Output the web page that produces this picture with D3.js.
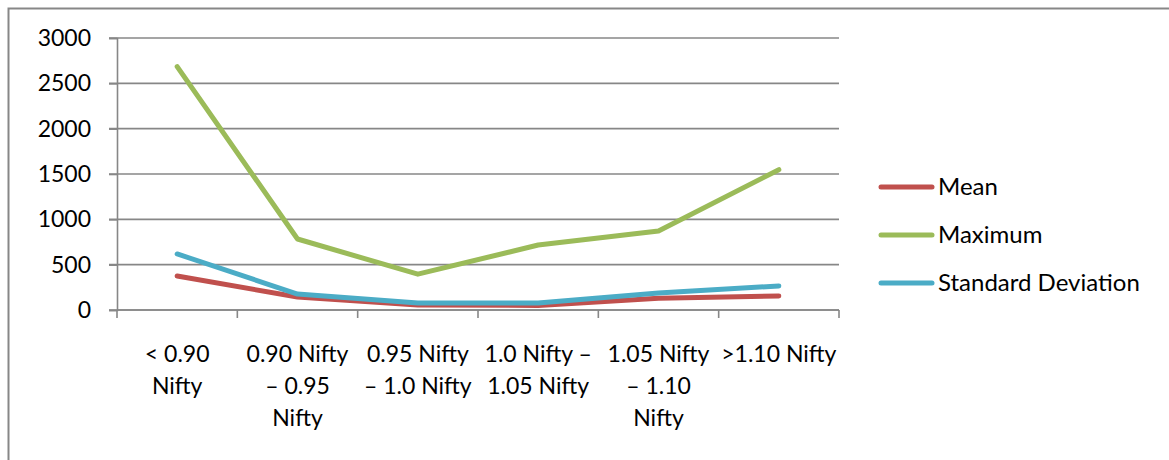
<!DOCTYPE html>
<html>
<head>
<meta charset="utf-8">
<script src="https://cdn.jsdelivr.net/npm/d3@7"></script>
<style>
  html, body { margin: 0; padding: 0; background: #fff; }
  svg { display: block; font-family: Lato, "Open Sans", sans-serif; }
</style>
</head>
<body>
<svg id="chart" width="1169" height="460"></svg>
<script>
// Price band categories (each entry is the wrapped lines of the label)
const categories = ["< 0.90 Nifty", "0.90 Nifty – 0.95 Nifty", "0.95 Nifty – 1.0 Nifty",
                    "1.0 Nifty – 1.05 Nifty", "1.05 Nifty – 1.10 Nifty", ">1.10 Nifty"];
const categoryLines = [
  ["< 0.90", "Nifty"],
  ["0.90 Nifty", "– 0.95", "Nifty"],
  ["0.95 Nifty", "– 1.0 Nifty"],
  ["1.0 Nifty –", "1.05 Nifty"],
  ["1.05 Nifty", "– 1.10", "Nifty"],
  [">1.10 Nifty"]
];
const seriesNames = ["Mean", "Maximum", "Standard Deviation"];
const meanValues = [375, 143, 55, 50, 130, 154];
const maximumValues = [2685, 783, 395, 717, 871, 1548];
const stdDevValues = [618, 176, 77, 77, 187, 265];
const yTicks = [0, 500, 1000, 1500, 2000, 2500, 3000];
const seriesColors = ["#C0504D", "#9BBB59", "#4BACC6"];

const series = [
  { name: seriesNames[0], values: meanValues, color: seriesColors[0] },
  { name: seriesNames[1], values: maximumValues, color: seriesColors[1] },
  { name: seriesNames[2], values: stdDevValues, color: seriesColors[2] }
];

const svg = d3.select("#chart");
const plotLeft = 117, plotRight = 839, plotTop = 38, plotBottom = 310;
const gridColor = "#878787";
const axisFont = 23;
const legendFont = 24;

// Outer chart frame (only top and left edges fall inside the view)
svg.append("rect")
  .attr("x", 8.5).attr("y", 8.5)
  .attr("width", 1300).attr("height", 600)
  .attr("fill", "none").attr("stroke", gridColor).attr("stroke-width", 2);

const x = d3.scaleBand().domain(categories).range([plotLeft, plotRight]);
const y = d3.scaleLinear().domain([0, 3000]).range([plotBottom, plotTop]);

// Horizontal gridlines
svg.append("g")
  .selectAll("line")
  .data(yTicks)
  .join("line")
  .attr("x1", plotLeft - 8).attr("x2", plotRight)
  .attr("y1", d => y(d)).attr("y2", d => y(d))
  .attr("stroke", gridColor).attr("stroke-width", 1.6);

// Y axis
const yAxis = svg.append("g")
  .attr("transform", `translate(${plotLeft},0)`)
  .call(d3.axisLeft(y).tickValues(yTicks).tickSize(8).tickPadding(18).tickFormat(d3.format("d")));
yAxis.select(".domain").attr("stroke", gridColor).attr("stroke-width", 1.6);
yAxis.selectAll(".tick line").attr("stroke", gridColor).attr("stroke-width", 1.6);
yAxis.selectAll(".tick text")
  .attr("font-size", axisFont).attr("font-family", "Lato, 'Open Sans', sans-serif")
  .attr("fill", "#000");

// X axis with ticks on the band boundaries
const xAxisG = svg.append("g").attr("transform", `translate(0,${plotBottom})`);
xAxisG.append("line")
  .attr("x1", plotLeft).attr("x2", plotRight)
  .attr("stroke", gridColor).attr("stroke-width", 1.6);
const boundaries = categories.map(c => x(c)).concat([x(categories[categories.length - 1]) + x.bandwidth()]);
xAxisG.selectAll("line.tick")
  .data(boundaries)
  .join("line")
  .attr("class", "tick")
  .attr("x1", d => d).attr("x2", d => d)
  .attr("y1", 0).attr("y2", 8)
  .attr("stroke", gridColor).attr("stroke-width", 1.6);

// Category labels, wrapped over several lines
const labelG = svg.append("g");
categories.forEach((c, i) => {
  const cx = x(c) + x.bandwidth() / 2;
  const t = labelG.append("text")
    .attr("text-anchor", "middle")
    .attr("font-size", axisFont)
    .attr("fill", "#000");
  categoryLines[i].forEach((line, j) => {
    t.append("tspan").attr("x", cx).attr("y", 362 + j * 32).text(line);
  });
});

// Series lines
const lineGen = d3.line()
  .x((d, i) => x(categories[i]) + x.bandwidth() / 2)
  .y(d => y(d));

svg.append("g")
  .selectAll("path")
  .data(series)
  .join("path")
  .attr("d", d => lineGen(d.values))
  .attr("fill", "none")
  .attr("stroke", d => d.color)
  .attr("stroke-width", 5)
  .attr("stroke-linejoin", "round")
  .attr("stroke-linecap", "round");

// Legend
const legend = svg.append("g");
series.forEach((s, i) => {
  const ly = 187 + i * 48;
  legend.append("line")
    .attr("x1", 881).attr("x2", 932)
    .attr("y1", ly).attr("y2", ly)
    .attr("stroke", s.color).attr("stroke-width", 5)
    .attr("stroke-linecap", "round");
  legend.append("text")
    .attr("x", 938).attr("y", ly + 8)
    .attr("font-size", legendFont)
    .attr("fill", "#000")
    .text(s.name);
});
</script>
</body>
</html>
